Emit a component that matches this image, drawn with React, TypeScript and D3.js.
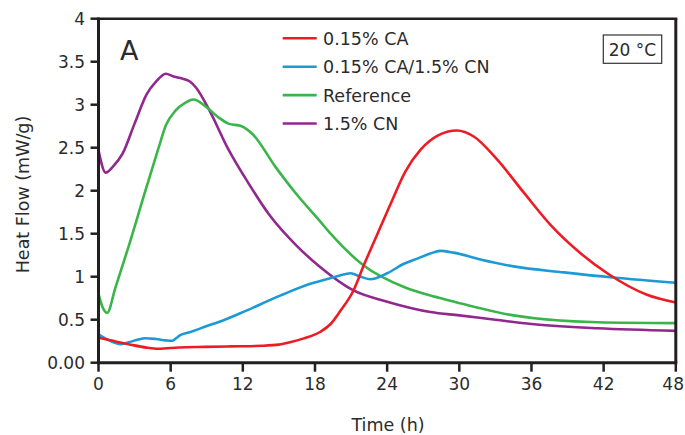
import React from "react";
import * as d3 from "d3";

const caTime = [0, 1, 2.5, 4, 5, 6.7, 8.9, 11, 13.6, 15, 16, 17, 18.45, 19.3, 20.1, 21.2, 22.05, 23.2, 24.3, 25.5, 26.8, 28.2, 29.8, 31.2, 33.1, 35.35, 37.6, 40.1, 42.3, 45.6, 48];
const caValues = [0.29, 0.26, 0.215, 0.175, 0.162, 0.177, 0.184, 0.19, 0.197, 0.21, 0.24, 0.28, 0.36, 0.45, 0.6, 0.84, 1.13, 1.5, 1.85, 2.22, 2.48, 2.64, 2.7, 2.63, 2.37, 1.98, 1.6, 1.27, 1.04, 0.79, 0.7];

const mixTime = [0, 0.6, 1.2, 1.83, 2.6, 3.3, 3.9, 4.8, 5.6, 6.1, 6.5, 6.8, 7.5, 8.9, 10.5, 12.2, 15.1, 17.9, 18.45, 20.0, 20.95, 21.8, 22.6, 24.0, 25.4, 26.5, 27.6, 28.4, 29.5, 31.75, 34.5, 38.7, 42.8, 48];
const mixValues = [0.33, 0.28, 0.24, 0.215, 0.24, 0.27, 0.285, 0.275, 0.26, 0.255, 0.29, 0.32, 0.35, 0.42, 0.5, 0.6, 0.78, 0.93, 0.95, 1.01, 1.04, 1.0, 0.97, 1.04, 1.15, 1.21, 1.27, 1.3, 1.28, 1.2, 1.12, 1.05, 0.99, 0.93];

const refTime = [0, 0.3, 0.72, 1.4, 2.5, 3.9, 5.0, 5.6, 6.4, 7.2, 7.9, 8.9, 10.0, 10.8, 11.9, 12.8, 14.7, 16.4, 18.45, 19.3, 22.05, 25.4, 27.6, 29, 34.5, 41.5, 48];
const refValues = [0.8, 0.66, 0.58, 0.87, 1.35, 2.0, 2.5, 2.76, 2.93, 3.02, 3.06, 2.98, 2.85, 2.78, 2.75, 2.66, 2.28, 1.97, 1.64, 1.5, 1.13, 0.88, 0.78, 0.73, 0.55, 0.47, 0.46];

const cnTime = [0, 0.6, 1.2, 2, 3, 4, 4.8, 5.6, 6.2, 6.8, 7.6, 8.1, 9.2, 10.8, 12.5, 14.2, 16.4, 18.45, 21.2, 24, 27.6, 30, 33, 36, 41.5, 48];
const cnValues = [2.47, 2.21, 2.28, 2.43, 2.78, 3.12, 3.27, 3.36, 3.33, 3.31, 3.27, 3.2, 2.94, 2.48, 2.08, 1.72, 1.37, 1.11, 0.84, 0.71, 0.59, 0.55, 0.5, 0.45, 0.4, 0.37];

const seriesNames = ["0.15% CA", "0.15% CA/1.5% CN", "Reference", "1.5% CN"];
const seriesColors = ["#ed1c24", "#1b9ad6", "#39b54a", "#92278f"];
const xTicks = [0, 6, 12, 18, 24, 30, 36, 42, 48];
const yTicks = [0, 0.5, 1, 1.5, 2, 2.5, 3, 3.5, 4];
const yTickLabels = ["0.00", "0.5", "1", "1.5", "2", "2.5", "3", "3.5", "4"];

const FONT = "'DejaVu Sans', sans-serif";
const TEXT = "#2b2b2b";

export default function App() {
  const x = d3.scaleLinear().domain([0, 48]).range([98.5, 675.8]);
  const y = d3.scaleLinear().domain([0, 4]).range([362.7, 18.7]);
  const line = d3
    .line<[number, number]>()
    .x((d) => x(d[0]))
    .y((d) => y(d[1]))
    .curve(d3.curveMonotoneX);

  const series = [
    { t: caTime, v: caValues },
    { t: mixTime, v: mixValues },
    { t: refTime, v: refValues },
    { t: cnTime, v: cnValues },
  ];
  const drawOrder = [3, 2, 1, 0];

  return (
    <svg width={685} height={435} style={{ position: "absolute", left: 0, top: 0, background: "#fff" }}>
      <rect x={0} y={0} width={685} height={435} fill="#fff" />
      {drawOrder.map((i) => {
        const pts: [number, number][] = series[i].t.map((t, k) => [t, series[i].v[k]]);
        return (
          <path key={i} d={line(pts) || ""} fill="none" stroke={seriesColors[i]} strokeWidth={2.6} strokeLinejoin="round" />
        );
      })}
      {/* frame */}
      <line x1={x(0)} x2={x(48) + 1.5} y1={y(4)} y2={y(4)} stroke="#231f20" strokeWidth={2.5} />
      <line x1={x(48)} x2={x(48)} y1={y(4)} y2={y(0)} stroke="#231f20" strokeWidth={3} />
      <line x1={x(0)} x2={x(0)} y1={y(4) - 1.2} y2={y(0) + 1.5} stroke="#231f20" strokeWidth={3} />
      <line x1={x(0) - 1.5} x2={x(48) + 1.5} y1={y(0)} y2={y(0)} stroke="#231f20" strokeWidth={3} />
      {yTicks.map((v, i) => (
        <g key={"y" + i}>
          <line x1={x(0) - 8} x2={x(0)} y1={y(v)} y2={y(v)} stroke="#231f20" strokeWidth={2.5} />
          <text x={85} y={y(v)} dy="0.36em" textAnchor="end" fontFamily={FONT} fontSize={17} fill={TEXT}>
            {yTickLabels[i]}
          </text>
        </g>
      ))}
      {xTicks.map((t) => (
        <g key={"x" + t}>
          <line x1={x(t)} x2={x(t)} y1={y(0)} y2={y(0) + 9} stroke="#231f20" strokeWidth={2.5} />
          <text
            x={t === 48 ? 684 : x(t)}
            y={390}
            textAnchor={t === 48 ? "end" : "middle"}
            fontFamily={FONT}
            fontSize={17}
            fill={TEXT}
          >
            {t}
          </text>
        </g>
      ))}
      <text x={388} y={431} textAnchor="middle" fontFamily={FONT} fontSize={17.5} fill={TEXT}>
        Time (h)
      </text>
      <text
        transform="translate(28.5,194.5) rotate(-90)"
        textAnchor="middle"
        fontFamily={FONT}
        fontSize={17.5}
        fill={TEXT}
      >
        Heat Flow (mW/g)
      </text>
      <text x={120} y={60} fontFamily={FONT} fontSize={27} fill={TEXT}>
        A
      </text>
      {seriesNames.map((name, i) => {
        const ry = 38.3 + i * 28.4;
        return (
          <g key={"lg" + i}>
            <line x1={282.7} x2={316.7} y1={ry} y2={ry} stroke={seriesColors[i]} strokeWidth={2.6} />
            <text x={323} y={ry + 6.5} fontFamily={FONT} fontSize={17.5} fill={TEXT}>
              {name}
            </text>
          </g>
        );
      })}
      <rect x={603.3} y={35} width={58.4} height={28.3} fill="#fff" stroke="#333" strokeWidth={1.2} />
      <text x={632.5} y={56} textAnchor="middle" fontFamily={FONT} fontSize={17} fill={TEXT}>
        20 °C
      </text>
    </svg>
  );
}
